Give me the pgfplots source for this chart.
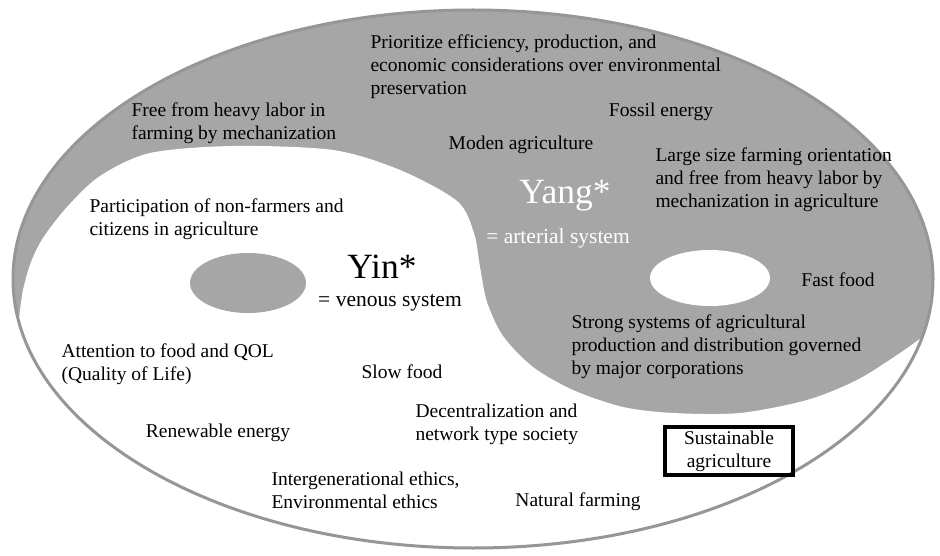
\documentclass[border=0pt]{standalone}
\usepackage{pgfplots}
\pgfplotsset{compat=1.18}
\usepackage{fontspec}
\setmainfont{Liberation Serif}
\definecolor{yang}{RGB}{166,166,166}
\definecolor{rim}{RGB}{150,150,150}
\newcommand{\labfont}{\fontsize{19.5}{23}\selectfont}
\newcommand{\midfont}{\fontsize{21.5}{25}\selectfont}
\newcommand{\bigfont}{\fontsize{35.5}{40}\selectfont}
\begin{document}
\begin{tikzpicture}
\begin{axis}[
  width=940pt, height=556pt, scale only axis,
  xmin=0, xmax=940, ymin=0, ymax=556, y dir=reverse,
  hide axis, clip=false,
  every node/.style={inner sep=0pt, outer sep=0pt},
]
\path (axis cs:0,0) (axis cs:940,556);
% gray (yang) body
\fill[yang] (axis cs:473,279) ellipse [x radius=460, y radius=269];
% white (yin) region: S-curve then lower arc
\addplot[fill=white, draw=none, smooth, tension=0.5] coordinates {
 (925,335) (900,353) (857,380) (807,400) (740,413) (673,413) (623,407)
 (573,390) (533,367) (503,336) (487,302) (480,267) (474,233) (457,201)
 (400,170) (333,150) (233,146) (150,153) (100,176) (67,207) (43,238)
 (31,262) (23,290) (19,320) (20,336) (50,390) (98,439) (163,481)
 (241,515) (330,538) (425,550) (521,550) (616,538) (705,515) (783,481)
 (848,439) (896,390) (926,336)
};
% outer rim
\draw[rim, line width=3pt] (axis cs:473,279) ellipse [x radius=460, y radius=269];
% eyes
\fill[yang] (axis cs:248,283) ellipse [x radius=58, y radius=30];
\fill[white] (axis cs:710,278) ellipse [x radius=60, y radius=28];
% box
\draw[black, line width=3.2pt] (axis cs:665,427) rectangle (axis cs:793,475);

% texts
\node[anchor=west, align=left, font=\labfont] at (axis cs:367,67)
  {Prioritize efficiency, production, and\\economic considerations over environmental\\preservation};
\node[anchor=west, align=left, font=\labfont] at (axis cs:128,123.5)
  {Free from heavy labor in\\farming by mechanization};
\node[font=\labfont] at (axis cs:661,112) {Fossil energy};
\node[font=\labfont] at (axis cs:521,145) {Moden agriculture};
\node[anchor=west, align=left, font=\labfont] at (axis cs:652,180)
  {Large size farming orientation\\and free from heavy labor by\\mechanization in agriculture};
\node[anchor=base, font=\bigfont, text=white] at (axis cs:565,204) {Yang*};
\node[font=\midfont, text=white] at (axis cs:558,238) {= arterial system};
\node[anchor=west, align=left, font=\labfont] at (axis cs:86,219)
  {Participation of non-farmers and\\citizens in agriculture};
\node[anchor=base, font=\bigfont] at (axis cs:382,278) {Yin*};
\node[font=\midfont] at (axis cs:390,303) {= venous system};
\node[font=\labfont] at (axis cs:838,280) {Fast food};
\node[anchor=west, align=left, font=\labfont] at (axis cs:568,347)
  {Strong systems of agricultural\\production and distribution governed\\by major corporations};
\node[anchor=west, align=left, font=\labfont] at (axis cs:58,364.5)
  {Attention to food and QOL\\(Quality of Life)};
\node[font=\labfont] at (axis cs:402,372) {Slow food};
\node[anchor=west, align=left, font=\labfont] at (axis cs:412,424)
  {Decentralization and\\network type society};
\node[font=\labfont] at (axis cs:218,433) {Renewable energy};
\node[align=center, font=\labfont] at (axis cs:729,451) {Sustainable\\agriculture};
\node[anchor=west, align=left, font=\labfont] at (axis cs:268,490)
  {Intergenerational ethics,\\Environmental ethics};
\node[font=\labfont] at (axis cs:578,502) {Natural farming};
\end{axis}
\end{tikzpicture}
\end{document}
